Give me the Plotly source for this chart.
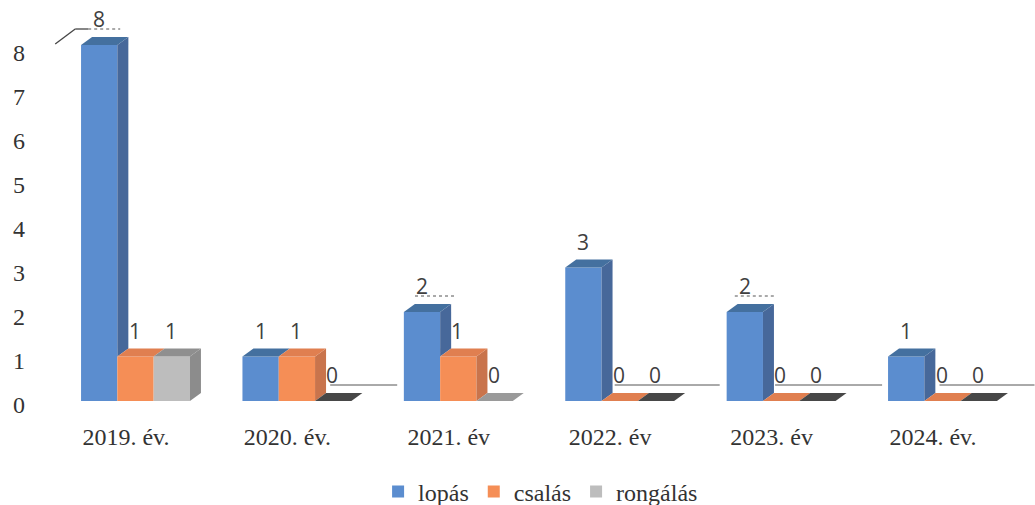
import plotly.graph_objects as go

categories = ["2019. év.", "2020. év.", "2021. év", "2022. év", "2023. év", "2024. év."]
lopas = [8, 1, 2, 3, 2, 1]
csalas = [1, 1, 1, 0, 0, 0]
rongalas = [1, 0, 0, 0, 0, 0]
y_ticks = [0, 1, 2, 3, 4, 5, 6, 7, 8]

series_names = ["lopás", "csalás", "rongálás"]
series_values = [lopas, csalas, rongalas]
front_colors = ["#5b8dcf", "#f58e56", "#bdbdbd"]
top_colors = ["#44709f", "#e07f50", "#8f8f8f"]
side_colors = ["#47689a", "#c9744c", "#8c8c8c"]
zero_top_colors = {2: ["#8f8f8f", "#474747", "#9a9a9a", "#474747", "#474747", "#474747"]}

W, H = 1035, 505
L, B = 26, 85
plot_bottom = H - B
px_x0, px_step = 126.0, 161.4
px_base, px_unit = 401.0, 44.5
tick_base, tick_unit = 405.0, 44.0

bar_w = 36.3 / px_step
group_shift = 9.5 / px_step
dx = 11.0 / px_step
dy = 8.0 / px_unit

fig = go.Figure()


def bar_x(i, s):
    return i + group_shift + (s - 1) * bar_w


# anchor trace for the axis that carries the tick labels
fig.add_trace(go.Scatter(x=[0], y=[0], mode="none", showlegend=False, hoverinfo="skip", yaxis="y"))

for s, name in enumerate(series_names):
    fig.add_trace(go.Bar(
        name=name,
        x=[bar_x(i, s) for i in range(len(categories))],
        y=series_values[s],
        width=bar_w,
        marker=dict(color=front_colors[s], line=dict(width=0)),
        yaxis="y2",
    ))

for s in range(3):
    for i in range(len(categories)):
        v = series_values[s][i]
        xl = bar_x(i, s) - bar_w / 2
        xr = bar_x(i, s) + bar_w / 2
        nxt = series_values[s + 1][i] if s < 2 else 0
        if v > nxt:
            fig.add_trace(go.Scatter(
                x=[xr, xr + dx, xr + dx, xr, xr],
                y=[v, v + dy, nxt + dy, nxt, v],
                mode="lines", fill="toself", fillcolor=side_colors[s],
                line=dict(width=0), showlegend=False, hoverinfo="skip", yaxis="y2",
            ))
        color = top_colors[s]
        if v == 0 and s in zero_top_colors:
            color = zero_top_colors[s][i]
        fig.add_trace(go.Scatter(
            x=[xl, xl + dx, xr + dx, xr, xl],
            y=[v, v + dy, v + dy, v, v],
            mode="lines", fill="toself", fillcolor=color,
            line=dict(width=0), showlegend=False, hoverinfo="skip", yaxis="y2",
        ))

annotations = []
for s in range(3):
    for i in range(len(categories)):
        v = series_values[s][i]
        annotations.append(dict(
            x=bar_x(i, s), y=v, xref="x", yref="y2", text=str(v), showarrow=False,
            yshift=26, xshift=-1 if s else 0,
            font=dict(family="Open Sans", size=21, color="#404040"),
        ))

# leader lines under the data labels: (category, series, start offset px, length px)
leaders = [(1, 2, -3, 67), (3, 1, -5, 105), (4, 1, -6, 107), (5, 1, -3, 95),
           (2, 0, -7, 42), (4, 0, -10, 42), (0, 0, -11, 32)]
shapes = []
for i, s, start, length in leaders:
    v = series_values[s][i]
    x0 = bar_x(i, s) + start / px_step
    y0 = v + 16 / px_unit
    shapes.append(dict(type="line", xref="x", yref="y2", x0=x0, x1=x0 + length / px_step,
                       y0=y0, y1=y0, line=dict(color="#555555", width=1, dash="dot" if v else "solid"), layer="above"))
# elbow of the leader line at the tallest bar
x_e = bar_x(0, 0) - 11 / px_step
y_e = lopas[0] + 16 / px_unit
shapes.append(dict(type="line", xref="x", yref="y2", x0=x_e - 33 / px_step, y0=y_e - 15 / px_unit, x1=x_e - 13 / px_step, y1=y_e,
                   line=dict(color="#444444", width=1.3)))
shapes.append(dict(type="line", xref="x", yref="y2", x0=x_e - 13 / px_step, y0=y_e, x1=x_e, y1=y_e,
                   line=dict(color="#444444", width=1.3)))

fig.update_layout(
    width=W, height=H,
    margin=dict(l=L, r=0, t=0, b=0, autoexpand=False),
    paper_bgcolor="white", plot_bgcolor="white",
    barmode="overlay", showlegend=True,
    font=dict(family="Liberation Serif", size=24, color="#333333"),
    annotations=annotations, shapes=shapes,
    legend=dict(orientation="h", x=0.51, xanchor="center", yref="container", y=0.026, yanchor="middle",
                font=dict(family="Liberation Serif", size=24, color="#333333")),
    xaxis=dict(
        range=[(L - px_x0) / px_step, (W - px_x0) / px_step],
        tickmode="array", tickvals=list(range(len(categories))), ticktext=categories,
        showgrid=False, zeroline=False, showline=False, ticks="", ticklabelstandoff=0,
        anchor="y",
    ),
    yaxis=dict(
        domain=[B / H, 1],
        range=[(tick_base - plot_bottom) / tick_unit, tick_base / tick_unit],
        tickmode="array", tickvals=y_ticks, showgrid=False, zeroline=False, showline=False, ticks="",
    ),
    yaxis2=dict(
        domain=[B / H, 1],
        range=[(px_base - plot_bottom) / px_unit, px_base / px_unit],
        overlaying="y", side="right", visible=False, showgrid=False, zeroline=False,
    ),
)

fig.write_html("out.html", post_script="document.body.style.margin='0';", config={"displayModeBar": False})
